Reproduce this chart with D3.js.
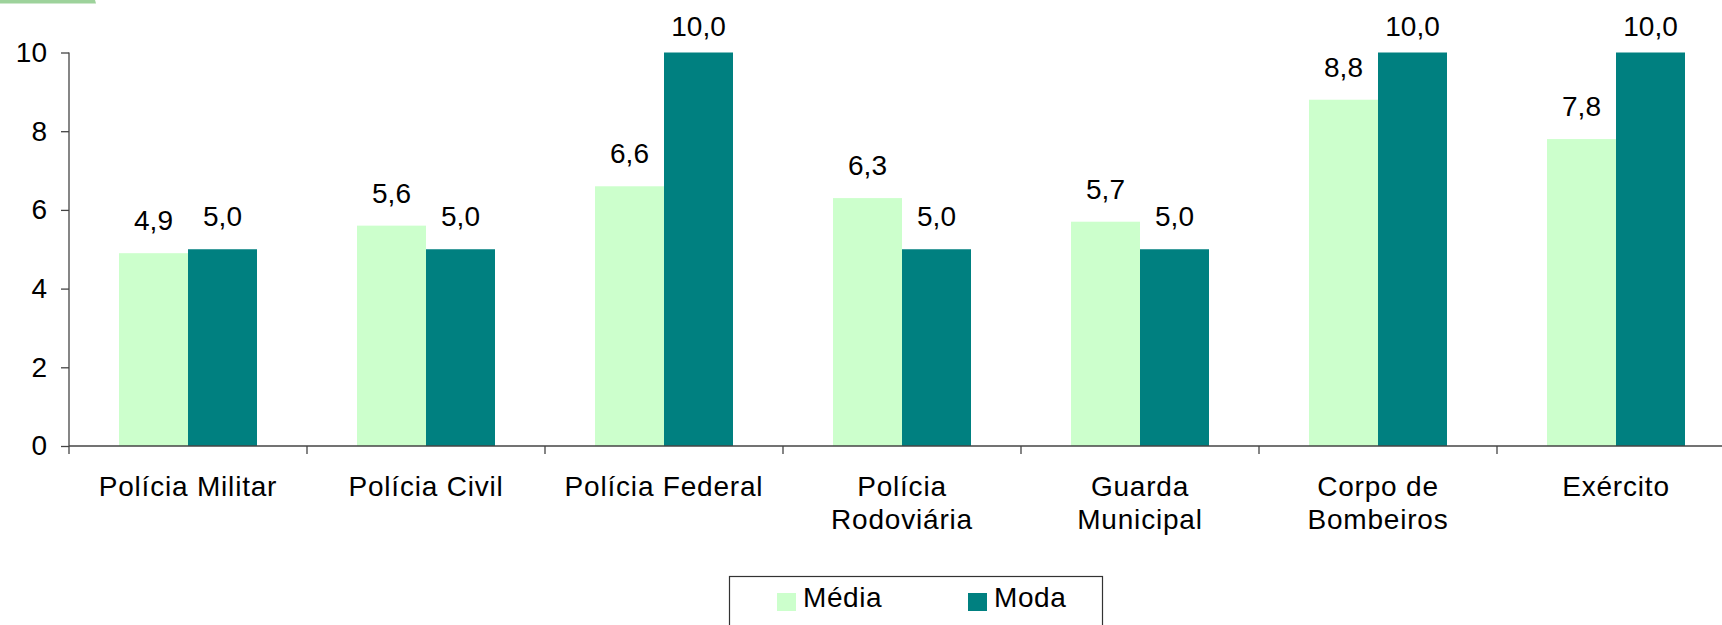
<!DOCTYPE html>
<html>
<head>
<meta charset="utf-8">
<script src="https://cdn.jsdelivr.net/npm/d3@7"></script>
<style>
  html, body { margin: 0; padding: 0; background: #fff; }
  svg { display: block; font-family: "Liberation Sans", Arial, sans-serif; }
</style>
</head>
<body>
<svg id="chart" width="1722" height="625"></svg>
<script>
// Avaliação das instituições: média e moda das notas (0 a 10)
const categories = [
  ["Polícia Militar"],
  ["Polícia Civil"],
  ["Polícia Federal"],
  ["Polícia", "Rodoviária"],
  ["Guarda", "Municipal"],
  ["Corpo de", "Bombeiros"],
  ["Exército"]
];
const seriesNames = ["Média", "Moda"];
const media = [4.9, 5.6, 6.6, 6.3, 5.7, 8.8, 7.8];
const moda  = [5.0, 5.0, 10.0, 5.0, 5.0, 10.0, 10.0];
const yTicks = [0, 2, 4, 6, 8, 10];
const colors = ["#CCFFCC", "#008080"];

const svg = d3.select("#chart");
const catKeys = categories.map(c => c.join(" "));

const plot = { left: 69, top: 52.5, bottom: 446 };
const bandW = 238;

const x0 = d3.scaleBand()
  .domain(catKeys)
  .range([plot.left, plot.left + bandW * catKeys.length])
  .paddingInner(0).paddingOuter(0);

const groupW = 138;
const x1 = d3.scaleBand()
  .domain(seriesNames)
  .range([(x0.bandwidth() - groupW) / 2, (x0.bandwidth() + groupW) / 2])
  .padding(0);

const y = d3.scaleLinear().domain([0, 10]).range([plot.bottom, plot.top]);

// decorative tab at the top-left corner
svg.append("path")
  .attr("d", "M0,0 L95,0 L96,3.5 L0,3.5 Z")
  .attr("fill", "#9dd29b");

const rows = catKeys.map((k, i) => ({ key: k, values: [media[i], moda[i]] }));

// bars
const groups = svg.append("g").selectAll("g")
  .data(rows)
  .join("g")
  .attr("transform", d => `translate(${x0(d.key)},0)`);

groups.selectAll("rect")
  .data(d => d.values.map((v, j) => ({ name: seriesNames[j], v, j })))
  .join("rect")
  .attr("x", d => x1(d.name))
  .attr("width", x1.bandwidth())
  .attr("y", d => y(d.v))
  .attr("height", d => y(0) - y(d.v))
  .attr("fill", d => colors[d.j]);

// value labels
const fmt = v => d3.format(".1f")(v).replace(".", ",");
groups.selectAll("text.val")
  .data(d => d.values.map((v, j) => ({ name: seriesNames[j], v, j })))
  .join("text")
  .attr("class", "val")
  .attr("x", d => x1(d.name) + x1.bandwidth() / 2)
  .attr("y", d => Math.max(y(d.v) - 23, 36))
  .attr("text-anchor", "middle")
  .attr("font-size", 28)
  .attr("fill", "#000")
  .text(d => fmt(d.v));

// y axis
const yAxis = svg.append("g")
  .attr("transform", `translate(${plot.left},0)`)
  .call(d3.axisLeft(y).tickValues(yTicks).tickSize(8).tickPadding(14).tickFormat(d3.format("d")));
yAxis.select(".domain").attr("stroke", "#444").attr("stroke-width", 1.3).attr("d", `M0,${plot.top}V${plot.bottom}`);
yAxis.selectAll(".tick line").attr("stroke", "#444").attr("stroke-width", 1.3);
yAxis.selectAll(".tick text").attr("font-size", 28).attr("fill", "#000")
  .attr("font-family", "'Liberation Sans', Arial, sans-serif");

// x axis with ticks on category boundaries
const xAxisG = svg.append("g").attr("transform", `translate(0,${plot.bottom})`);
xAxisG.append("line")
  .attr("x1", plot.left).attr("x2", 1722)
  .attr("stroke", "#444").attr("stroke-width", 1.3);
const boundaries = catKeys.map(k => x0(k)).concat([x0(catKeys[catKeys.length - 1]) + bandW]);
xAxisG.selectAll("line.b")
  .data(boundaries)
  .join("line")
  .attr("class", "b")
  .attr("x1", d => d).attr("x2", d => d)
  .attr("y1", 0).attr("y2", 8)
  .attr("stroke", "#444").attr("stroke-width", 1.3);

// category labels
const catLabels = svg.append("g").selectAll("text")
  .data(categories)
  .join("text")
  .attr("x", (d, i) => x0(catKeys[i]) + x0.bandwidth() / 2)
  .attr("y", 496)
  .attr("text-anchor", "middle")
  .attr("font-size", 28)
  .attr("letter-spacing", 0.8)
  .attr("fill", "#000");
catLabels.selectAll("tspan")
  .data(d => d)
  .join("tspan")
  .attr("x", function () { return d3.select(this.parentNode).attr("x"); })
  .attr("dy", (d, i) => i === 0 ? 0 : 33)
  .text(d => d);

// legend
const legend = svg.append("g");
legend.append("rect")
  .attr("x", 729.5).attr("y", 576.5)
  .attr("width", 373).attr("height", 80)
  .attr("fill", "#fff").attr("stroke", "#333").attr("stroke-width", 1.2);
const legendX = [777, 968];
seriesNames.forEach((name, i) => {
  legend.append("rect")
    .attr("x", legendX[i]).attr("y", 593)
    .attr("width", 19).attr("height", 18)
    .attr("fill", colors[i]);
  legend.append("text")
    .attr("x", legendX[i] + 26).attr("y", 607)
    .attr("font-size", 28).attr("letter-spacing", 0.6).attr("fill", "#000")
    .text(name);
});
</script>
</body>
</html>
